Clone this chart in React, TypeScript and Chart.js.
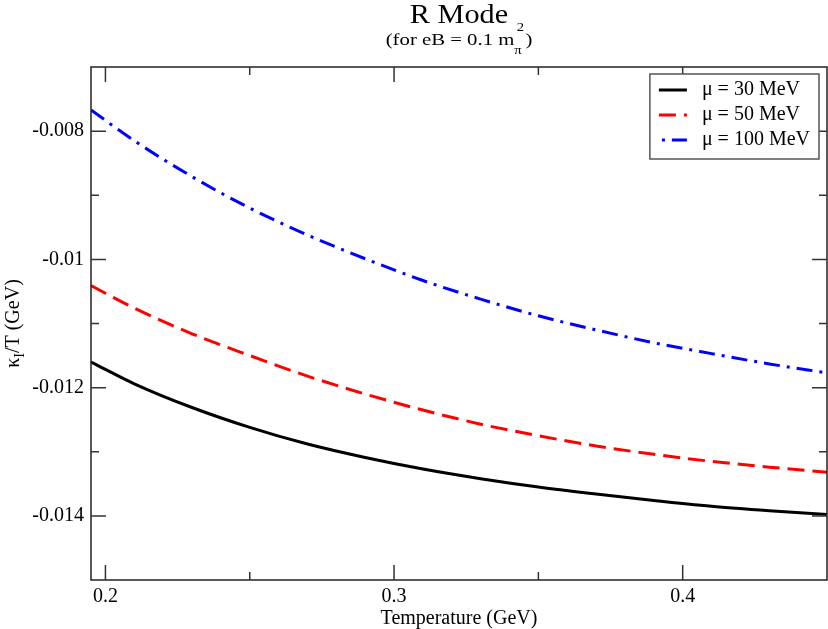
import React, { useEffect, useRef } from "react";
import { Chart, registerables } from "chart.js";

Chart.register(...registerables);

// values
const temperature = [0.195, 0.21, 0.23, 0.25, 0.27, 0.29, 0.31, 0.33, 0.35, 0.37, 0.39, 0.41, 0.43, 0.45];
const mu30 = [-0.0116, -0.01194, -0.01231, -0.01262, -0.01288, -0.01309, -0.01327, -0.01342, -0.01355, -0.01366, -0.01376, -0.01385, -0.01392, -0.01398];
const mu50 = [-0.01041, -0.01076, -0.01116, -0.0115, -0.01182, -0.0121, -0.01235, -0.01257, -0.01275, -0.01291, -0.01304, -0.01315, -0.01324, -0.01332];
const mu100 = [-0.00767, -0.00815, -0.00871, -0.0092, -0.00962, -0.00999, -0.01033, -0.01062, -0.01088, -0.0111, -0.0113, -0.01147, -0.01163, -0.01177];
const seriesLabels = ["μ = 30 MeV", "μ = 50 MeV", "μ = 100 MeV"];

const xTicks = [0.2, 0.3, 0.4];
const xMinorTicks = [0.25, 0.35];
const yTicks = [-0.008, -0.01, -0.012, -0.014];
const yMinorTicks = [-0.009, -0.011, -0.013];

const serif = "'Liberation Serif', 'Times New Roman', serif";

type Part = { text: string; size: number; dy?: number; dx?: number };

// draws a run of text with sub/superscripts, centred on cx
function drawRun(ctx: CanvasRenderingContext2D, parts: Part[], cx: number, baseline: number, stretch: number) {
	let w = 0;
	const xs: number[] = [];
	parts.forEach((p) => {
		ctx.font = `${p.size}px ${serif}`;
		w += p.dx || 0;
		xs.push(w);
		w += ctx.measureText(p.text).width;
	});
	ctx.save();
	ctx.translate(cx, baseline);
	ctx.scale(stretch, 1);
	ctx.textAlign = "left";
	ctx.textBaseline = "alphabetic";
	ctx.fillStyle = "#000";
	parts.forEach((p, i) => {
		ctx.font = `${p.size}px ${serif}`;
		ctx.fillText(p.text, xs[i] - w / 2, p.dy || 0);
	});
	ctx.restore();
}

const decorations = {
	id: "decorations",
	afterDraw(chart: any) {
		const { ctx, chartArea: a, scales } = chart;
		const xs = scales.x;
		const ys = scales.y;
		ctx.save();

		// frame
		ctx.strokeStyle = "#222";
		ctx.lineWidth = 1.5;
		ctx.strokeRect(a.left, a.top, a.right - a.left, a.bottom - a.top);

		// inward ticks on all four sides
		ctx.beginPath();
		const xt = (v: number, len: number) => {
			const p = xs.getPixelForValue(v);
			ctx.moveTo(p, a.bottom);
			ctx.lineTo(p, a.bottom - len);
			ctx.moveTo(p, a.top);
			ctx.lineTo(p, a.top + len);
		};
		const yt = (v: number, len: number) => {
			const p = ys.getPixelForValue(v);
			ctx.moveTo(a.left, p);
			ctx.lineTo(a.left + len, p);
			ctx.moveTo(a.right, p);
			ctx.lineTo(a.right - len, p);
		};
		xTicks.forEach((v) => xt(v, 15));
		xMinorTicks.forEach((v) => xt(v, 8));
		yTicks.forEach((v) => yt(v, 15));
		yMinorTicks.forEach((v) => yt(v, 8));
		ctx.strokeStyle = "#333";
		ctx.lineWidth = 1.5;
		ctx.stroke();

		// legend
		const ds = chart.data.datasets;
		ctx.font = `20px ${serif}`;
		const textW = Math.max(...ds.map((d: any) => ctx.measureText(d.label).width));
		const boxW = 52 + textW + 9;
		const boxH = 85;
		const bx = a.right - 8 - boxW;
		const by = a.top + 7;
		ctx.fillStyle = "#fff";
		ctx.fillRect(bx, by, boxW, boxH);
		ctx.strokeStyle = "#555";
		ctx.lineWidth = 1.5;
		ctx.strokeRect(bx, by, boxW, boxH);
		ds.forEach((d: any, i: number) => {
			const yy = by + 16 + i * 25;
			ctx.setLineDash(d.borderDash || []);
			ctx.lineDashOffset = d.legendDashOffset || 0;
			ctx.strokeStyle = d.borderColor;
			ctx.lineWidth = 3;
			ctx.beginPath();
			ctx.moveTo(bx + 9, yy);
			ctx.lineTo(bx + 37, yy);
			ctx.stroke();
			ctx.setLineDash([]);
			ctx.fillStyle = "#000";
			ctx.textAlign = "left";
			ctx.textBaseline = "middle";
			ctx.fillText(d.label, bx + 52, yy);
		});

		// titles
		const cx = (a.left + a.right) / 2;
		drawRun(ctx, [{ text: "R Mode", size: 27 }], cx, 22.7, 1.12);
		drawRun(
			ctx,
			[
				{ text: "(for eB = 0.1 m", size: 17 },
				{ text: "π", size: 12, dy: 9 },
				{ text: "2", size: 12, dy: -14, dx: -4 },
				{ text: ")", size: 17, dx: 1 },
			],
			cx,
			44.5,
			1.22
		);

		// y axis title
		ctx.save();
		ctx.translate(19, (a.top + a.bottom) / 2);
		ctx.rotate(-Math.PI / 2);
		drawRun(
			ctx,
			[
				{ text: "κ", size: 20 },
				{ text: "I", size: 14, dy: 5 },
				{ text: "/T (GeV)", size: 20 },
			],
			0,
			0,
			1
		);
		ctx.restore();

		ctx.restore();
	},
};

const App = () => {
	const canvasRef = useRef<HTMLCanvasElement>(null);

	useEffect(() => {
		if (!canvasRef.current) return;
		const toPoints = (vals: number[]) => vals.map((v, i) => ({ x: temperature[i], y: v }));

		const chart = new Chart(canvasRef.current, {
			type: "line",
			data: {
				datasets: [
					{
						label: seriesLabels[0],
						data: toPoints(mu30),
						borderColor: "#000000",
						borderWidth: 3,
					},
					{
						label: seriesLabels[1],
						data: toPoints(mu50),
						borderColor: "#ff0000",
						borderWidth: 3,
						borderDash: [17, 8],
					},
					{
						label: seriesLabels[2],
						data: toPoints(mu100),
						borderColor: "#0000ff",
						borderWidth: 3,
						borderDash: [16, 7, 3, 7],
						legendDashOffset: 20,
					} as any,
				],
			},
			options: {
				responsive: false,
				animation: false,
				layout: { padding: { top: 67, right: 1, left: 0, bottom: 0 } },
				elements: {
					point: { radius: 0 },
					line: { cubicInterpolationMode: "monotone", fill: false },
				},
				plugins: {
					legend: { display: false },
					title: { display: false },
					tooltip: { enabled: false },
				},
				scales: {
					x: {
						type: "linear",
						min: 0.195,
						max: 0.45,
						afterBuildTicks: (s: any) => {
							s.ticks = xTicks.map((v) => ({ value: v }));
						},
						afterFit: (s: any) => {
							s.height = 49;
						},
						grid: { display: false, drawTicks: false },
						border: { display: false },
						ticks: {
							padding: 5,
							color: "#000",
							font: { family: serif, size: 20 },
							callback: (v: any) => String(v),
						},
						title: {
							display: true,
							text: "Temperature (GeV)",
							color: "#000",
							font: { family: serif, size: 20 },
							padding: { top: 0, bottom: -2 },
						},
					},
					y: {
						type: "linear",
						min: -0.015,
						max: -0.007,
						afterBuildTicks: (s: any) => {
							s.ticks = yTicks.map((v) => ({ value: v }));
						},
						afterFit: (s: any) => {
							s.width = 91;
						},
						grid: { display: false, drawTicks: false },
						border: { display: false },
						ticks: {
							padding: 7,
							color: "#000",
							font: { family: serif, size: 20 },
							callback: (v: any) => String(v),
						},
					},
				},
			},
			plugins: [decorations],
		});

		return () => {
			chart.destroy();
		};
	}, []);

	return (
		<div style={{ position: "absolute", left: 0, top: 0, width: 828, height: 629, background: "#fff" }}>
			<canvas ref={canvasRef} width={828} height={629} style={{ display: "block" }} />
		</div>
	);
};

export default App;
